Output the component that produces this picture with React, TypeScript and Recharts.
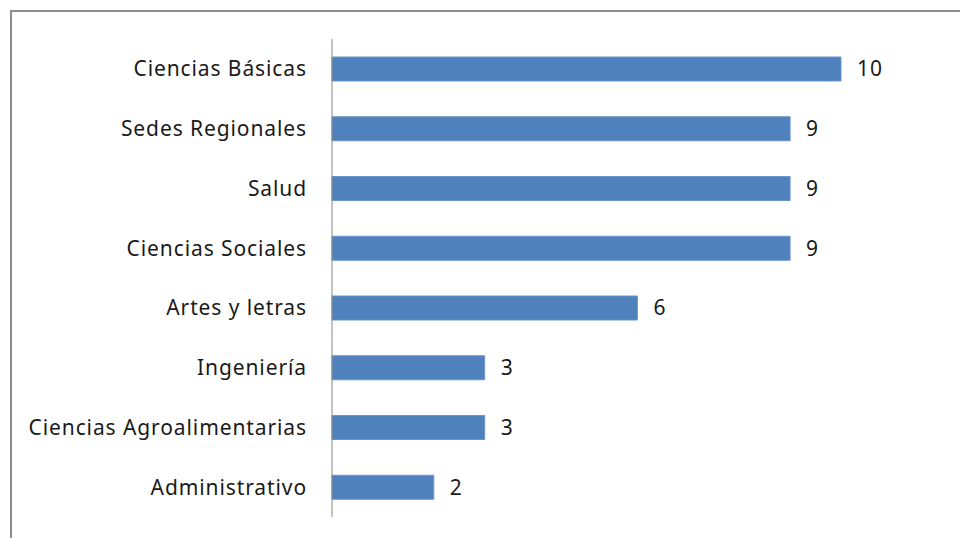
import { BarChart, Bar, XAxis, YAxis, LabelList } from "recharts";

const categories = [
  "Ciencias Básicas",
  "Sedes Regionales",
  "Salud",
  "Ciencias Sociales",
  "Artes y letras",
  "Ingeniería",
  "Ciencias Agroalimentarias",
  "Administrativo",
];
const counts = [10, 9, 9, 9, 6, 3, 3, 2];

const data = categories.map((name, i) => ({ name, value: counts[i] }));

const FONT = "Noto Sans, sans-serif";
const textStyle = { fontSize: 21, fill: "#1a1a1a", fontFamily: FONT, letterSpacing: 0.9 };

export default function App() {
  return (
    <div style={{ position: "absolute", left: 0, top: 0, width: 960, height: 538, overflow: "hidden", background: "#fff" }}>
      <div
        style={{
          position: "absolute",
          left: 10,
          top: 10,
          width: 980,
          height: 560,
          border: "2px solid #8c8c8c",
          boxSizing: "border-box",
        }}
      />
      <div style={{ position: "absolute", left: 0, top: 0 }}>
        <BarChart
          width={960}
          height={538}
          data={data}
          layout="vertical"
          margin={{ top: 39, right: 119, bottom: 21, left: 0 }}
        >
          <XAxis type="number" domain={[0, 10]} hide />
          <YAxis
            type="category"
            dataKey="name"
            width={332}
            axisLine={{ stroke: "#868686", strokeWidth: 1 }}
            tickLine={false}
            tickSize={0}
            tickMargin={25}
            interval={0}
            tick={textStyle}
          />
          <Bar dataKey="value" fill="#4f81bd" stroke="#6a95c9" strokeWidth={1} barSize={24} isAnimationActive={false}>
            <LabelList dataKey="value" position="right" offset={16} style={textStyle} />
          </Bar>
        </BarChart>
      </div>
    </div>
  );
}
